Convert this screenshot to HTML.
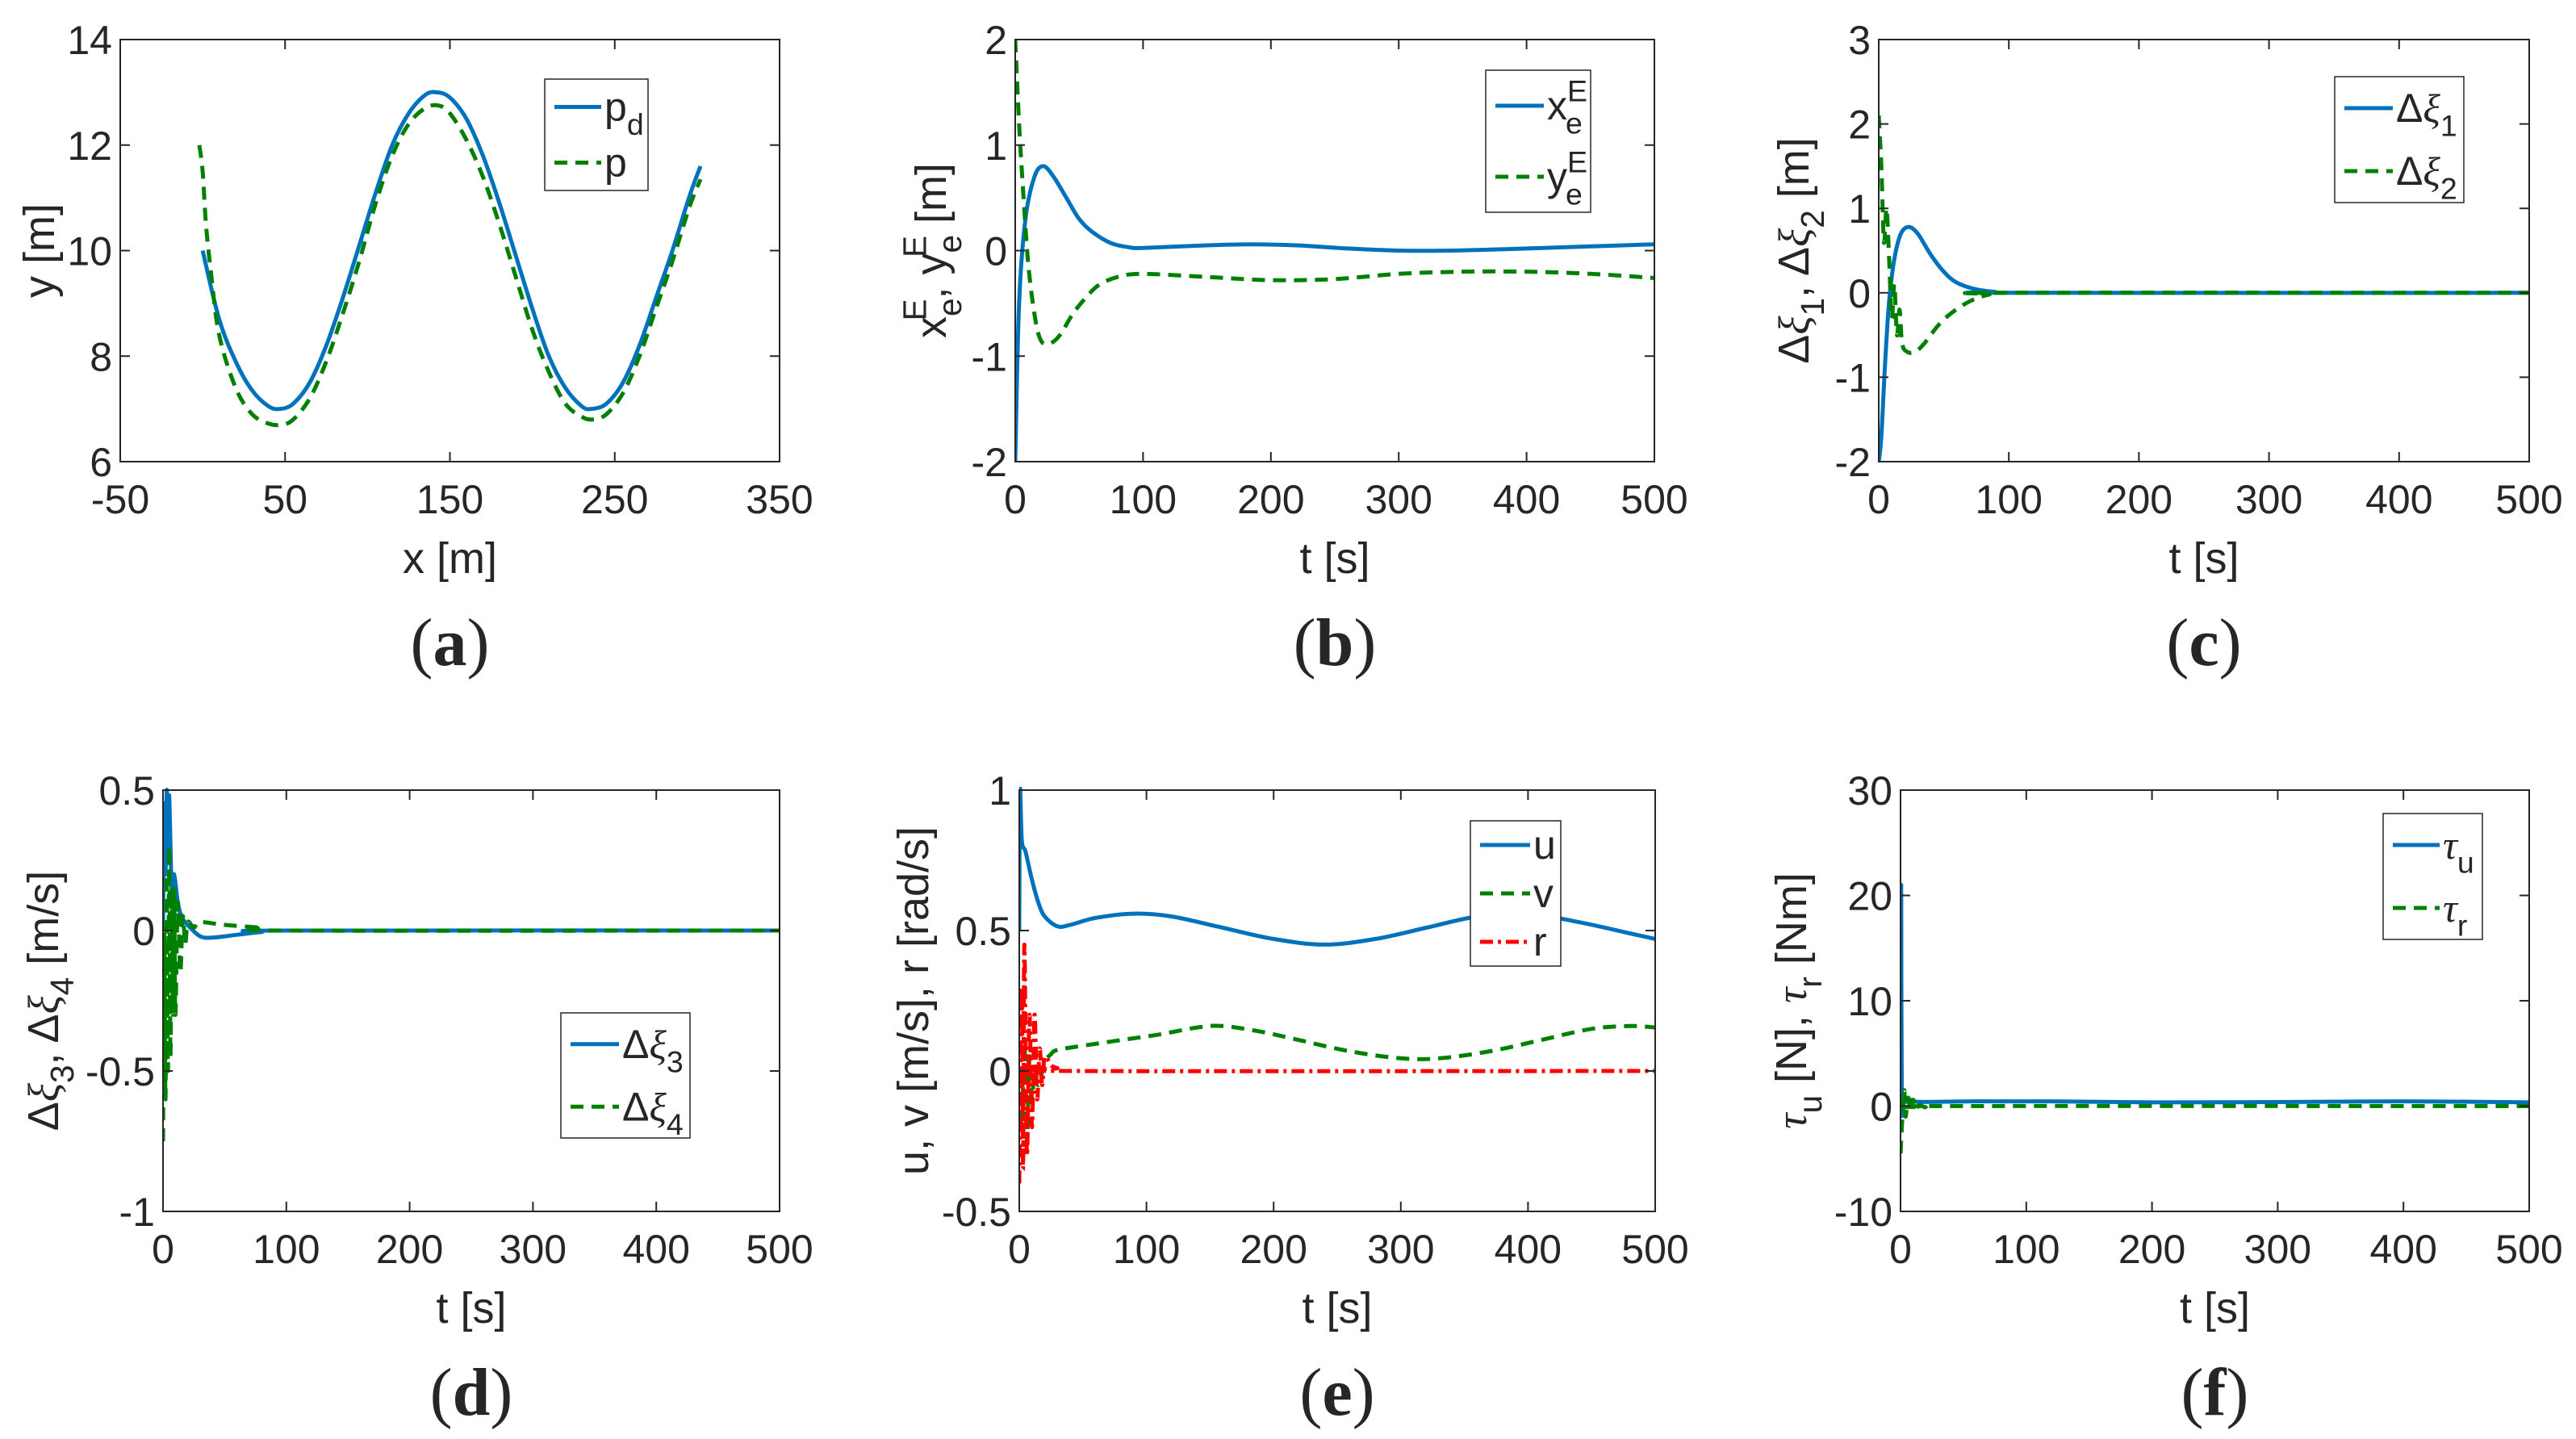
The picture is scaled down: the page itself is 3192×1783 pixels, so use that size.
<!DOCTYPE html>
<html><head><meta charset="utf-8"><title>Simulation results</title>
<style>
html,body{margin:0;padding:0;background:#fff;}
svg{display:block;}
text{font-family:"Liberation Sans",sans-serif;fill:#262626;}
.pl{font-family:"Liberation Serif",serif;}
</style></head>
<body>
<svg id="fig" width="3192" height="1783" viewBox="0 0 3192 1783" xmlns="http://www.w3.org/2000/svg"></svg>
<script>
// ---- Panel (a) data ----
const aPdX=[0,10,20,30,40,47,55,65,75,85,95,105,115,125,135,142,150,160,170,180,190,200,210,220,230,236,245,255,265,275,285,295,302];
const aPdY=[10,8.7,7.9,7.35,7.05,7,7.1,7.5,8.2,9.1,10.1,11.1,12,12.6,12.95,13,12.9,12.5,11.8,10.9,9.9,8.9,8.0,7.4,7.05,7,7.1,7.5,8.2,9.1,10.0,11.0,11.6];
const aPX=[-2,0,2,5,10,20,30,40,48,55,65,75,85,95,105,115,125,135,143,150,160,170,180,190,200,210,220,230,237,245,255,265,275,285,295,302];
const aPY=[12,11.5,10.5,9.6,8.4,7.4,6.9,6.72,6.7,6.8,7.2,7.9,8.8,9.8,10.9,11.8,12.4,12.7,12.75,12.6,12.1,11.4,10.5,9.5,8.5,7.7,7.1,6.85,6.8,6.9,7.3,8.0,8.9,9.8,10.8,11.35];
// ---- Panel (b) data ----
const bXeT=[0,3,8,15,22,30,40,50,60,75,90,100,150,185,220,260,300,340,400,450,500];
const bXeV=[-2,-0.5,0.3,0.7,0.8,0.7,0.5,0.3,0.18,0.07,0.03,0.025,0.05,0.06,0.05,0.02,0,0,0.02,0.04,0.06];
const bYeT=[0,3,6,10,15,20,27,35,45,55,65,80,100,150,200,250,300,350,400,450,500];
const bYeV=[2,1.2,0.6,-0.1,-0.6,-0.85,-0.88,-0.8,-0.6,-0.45,-0.33,-0.25,-0.22,-0.25,-0.28,-0.27,-0.22,-0.2,-0.2,-0.22,-0.26];
// ---- Panel (c) data ----
const cD1T=[0,2,5,8,12,17,23,30,40,50,60,75,90,100,500];
const cD1V=[-2,-1.7,-0.8,-0.1,0.4,0.7,0.78,0.7,0.45,0.25,0.12,0.04,0.01,0,0];
const cD2T=[0,2,4,6,8,10,12,14,16,18,22,28,35,45,55,70,85,100,500];
const cD2V=[2.1,1.5,0.6,1.0,0.4,-0.3,0.1,-0.5,-0.2,-0.6,-0.7,-0.7,-0.6,-0.4,-0.25,-0.1,-0.02,0,0];
// ---- Panel (d) data ----
const dD3T=[0,1,2,3,4,5,7,9,12,15,20,30,40,60,80,100,500];
const dD3V=[0,0.45,0.2,0.5,0.3,0.48,0.15,0.2,0.1,0.05,0.02,-0.02,-0.025,-0.015,-0.005,0,0];
const dD4T=[0,1,2,3,4,5,6,7,8,9,10,12,14,16,18,20,25,30,50,80,100,500];
const dD4V=[-0.75,0,-0.6,0.2,-0.5,0.3,-0.45,0.15,-0.3,0.15,-0.3,0.1,-0.15,0.05,-0.05,0.03,0.01,0.03,0.02,0.01,0,0];
// ---- Panel (e) data ----
const eUT=[0,0.5,2,5,10,15,20,30,40,60,90,120,160,200,240,280,320,360,400,440,480,500];
const eUV=[0.5,1,0.82,0.78,0.68,0.6,0.55,0.515,0.52,0.545,0.56,0.55,0.51,0.47,0.45,0.47,0.51,0.55,0.56,0.53,0.49,0.47];
const eVT=[0,2,4,6,8,10,12,15,20,25,30,50,80,110,140,160,190,220,260,300,330,370,410,450,480,500];
const eVV=[0,-0.2,0.1,-0.25,0.05,-0.1,0,-0.05,0.03,0.06,0.075,0.09,0.11,0.13,0.155,0.16,0.14,0.11,0.07,0.045,0.045,0.07,0.11,0.15,0.16,0.155];
const eRT=[0,2,3,4,6,8,10,12,14,16,18,20,25,30,40,500];
const eRV=[-0.4,0.3,-0.35,0.45,-0.3,0.2,-0.2,0.2,-0.1,0.08,-0.05,0.05,0.02,0.01,0,0];
// ---- Panel (f) data ----
const fTuT=[0,0.5,1,3,5,8,15,60,120,200,300,400,500];
const fTuV=[0,21,0.5,0.8,0.4,0.6,0.4,0.45,0.45,0.35,0.38,0.45,0.35];
const fTrT=[0,1,2,3,4,6,8,10,12,15,20,30,500];
const fTrV=[-4.5,-2,0,1.5,-1,0.8,-0.5,0.6,-0.3,0.1,-0.1,0,0];
// ---- Ticks ----
const aXTicks=[-50,50,150,250,350];
const aYTicks=[6,8,10,12,14];
const tTicks=[0,100,200,300,400,500];
const bYTicks=[-2,-1,0,1,2];
const cYTicks=[-2,-1,0,1,2,3];
const dYTicks=[-1,-0.5,0,0.5];
const eYTicks=[-0.5,0,0.5,1];
const fYTicks=[-10,0,10,20,30];

const NS="http://www.w3.org/2000/svg";
const svg=document.getElementById('fig');
const BLUE="#0072BD",GREEN="#008000",RED="#FF0000";
const STYLES={solid:{c:BLUE,d:""},dash:{c:GREEN,d:"16 10"},dashdot:{c:RED,d:"16 6 4 6"}};
function mk(tag,attrs,parent){const e=document.createElementNS(NS,tag);for(const k in attrs)e.setAttribute(k,attrs[k]);(parent||svg).appendChild(e);return e;}
function rich(el,parts,fs){
  let shift=0;
  parts.forEach(p=>{const t=document.createElementNS(NS,'tspan');
    let target=0,size=fs;
    if(p[1]==='sub'){target=fs*0.35;size=fs*0.75;}
    if(p[1]==='sup'){target=-fs*0.45;size=fs*0.75;}
    t.setAttribute('dy',(target-shift).toFixed(1));shift=target;
    t.setAttribute('font-size',size);
    if(p[2]!==undefined)t.setAttribute('dx',p[2]);
    if(p[1]==='gr'){t.setAttribute('font-family','"Liberation Serif","DejaVu Serif",serif');t.setAttribute('font-style','italic');}
    t.textContent=p[0];el.appendChild(t);});
}
function smoothPath(px,py){
  let d='M'+px[0].toFixed(1)+','+py[0].toFixed(1);
  for(let i=0;i<px.length-1;i++){
    const i0=Math.max(0,i-1),i3=Math.min(px.length-1,i+2);
    const c1x=px[i]+(px[i+1]-px[i0])/6,c1y=py[i]+(py[i+1]-py[i0])/6;
    const c2x=px[i+1]-(px[i3]-px[i])/6,c2y=py[i+1]-(py[i3]-py[i])/6;
    d+='C'+c1x.toFixed(1)+','+c1y.toFixed(1)+' '+c2x.toFixed(1)+','+c2y.toFixed(1)+' '+px[i+1].toFixed(1)+','+py[i+1].toFixed(1);
  }
  return d;
}
function panel(o){
  const g=mk('g',{});
  
  
  const [L,T,R,B]=o.box;
  const sx=v=>L+(v-o.xr[0])/(o.xr[1]-o.xr[0])*(R-L);
  const sy=v=>B-(v-o.yr[0])/(o.yr[1]-o.yr[0])*(B-T);
  const clipId='clip'+o.id;
  const cp=mk('clipPath',{id:clipId},g);mk('rect',{x:L,y:T-4,width:R-L,height:B-T+8},cp);
  o.series.forEach(s=>{
    const st=STYLES[s.style];
    const d=smoothPath(s.x.map(sx),s.y.map(sy));
    const p=mk('path',{d:d,fill:'none',stroke:st.c,'stroke-width':5,'stroke-dasharray':st.d,'stroke-linejoin':'round','clip-path':'url(#'+clipId+')'},g);
    
    
  });
  const bx=mk('rect',{x:L,y:T,width:R-L,height:B-T,fill:'none',stroke:'#262626','stroke-width':2},g);
  
  
  const tl=12;
  o.xticks.forEach(v=>{const x=sx(v);
    mk('line',{x1:x,y1:B,x2:x,y2:B-tl,stroke:'#262626','stroke-width':2},g);
    mk('line',{x1:x,y1:T,x2:x,y2:T+tl,stroke:'#262626','stroke-width':2},g);
    const t=mk('text',{x:x,y:B+64,'font-size':50,'text-anchor':'middle'},g);t.textContent=String(v);
    
    });
  o.yticks.forEach(v=>{const y=sy(v);
    mk('line',{x1:L,y1:y,x2:L+tl,y2:y,stroke:'#262626','stroke-width':2},g);
    mk('line',{x1:R,y1:y,x2:R-tl,y2:y,stroke:'#262626','stroke-width':2},g);
    const t=mk('text',{x:L-10,y:y+18,'font-size':50,'text-anchor':'end'},g);t.textContent=String(v);
    
    });
  const xl=mk('text',{x:(L+R)/2,y:B+138,'font-size':54,'text-anchor':'middle'},g);xl.textContent=o.xlabel;
  
  
  const yc=(T+B)/2;
  const yl=mk('text',{x:0,y:0,'font-size':54,'text-anchor':'middle',transform:'translate('+(o.ylx+18)+','+yc+') rotate(-90)'},g);
  rich(yl,o.ylabel,54);
  
  
  const pl=mk('text',{x:(L+R)/2,y:B+252,'font-size':84,'text-anchor':'middle','class':'pl'},g);
  const a=document.createElementNS(NS,'tspan');a.textContent='(';pl.appendChild(a);
  const b=document.createElementNS(NS,'tspan');b.setAttribute('font-weight','bold');b.textContent=o.letter;pl.appendChild(b);
  const c=document.createElementNS(NS,'tspan');c.textContent=')';pl.appendChild(c);
  
  
  const [lx,ly,lx2,ly2]=o.legend.box;
  const lg=mk('g',{},g);
  
  
  mk('rect',{x:lx,y:ly,width:lx2-lx,height:ly2-ly,fill:'#fff',stroke:'#262626','stroke-width':1.5},lg);
  const n=o.legend.items.length, h=(ly2-ly)/n;
  o.legend.items.forEach((it,i)=>{
    const cy=ly+h*(i+0.5);
    const st=STYLES[it.style];
    const e=mk('g',{},lg);
    
    
    mk('line',{x1:lx+12,y1:cy,x2:lx+12+o.legend.lw,y2:cy,stroke:st.c,'stroke-width':5,'stroke-dasharray':st.d},e);
    const t=mk('text',{x:lx+16+o.legend.lw,y:cy+17,'font-size':50},e);
    rich(t,it.label,50);
  });
}

panel({id:'a',name:'panel-a-trajectory',box:[149,49,966,572],xr:[-50,350],yr:[6,14],xticks:aXTicks,yticks:aYTicks,
  series:[{name:'pd-line',style:'solid',x:aPdX,y:aPdY},{name:'p-line',style:'dash',x:aPX,y:aPY}],
  xlabel:'x [m]',ylabel:[['y [m]','n']],ylx:49,letter:'a',
  legend:{box:[675,98,803,236],lw:58,items:[{style:'solid',label:[['p','n'],['d','sub']]},{style:'dash',label:[['p','n']]}]}});
panel({id:'b',name:'panel-b-position-error',box:[1258,49,2050,572],xr:[0,500],yr:[-2,2],xticks:tTicks,yticks:bYTicks,
  series:[{name:'xe-line',style:'solid',x:bXeT,y:bXeV},{name:'ye-line',style:'dash',x:bYeT,y:bYeV}],
  xlabel:'t [s]',ylabel:[['x','n'],['e','sub'],['E','sup',-28],[', y','n'],['e','sub'],['E','sup',-28],[' [m]','n']],ylx:1154,letter:'b',
  legend:{box:[1841,87,1971,263],lw:60,items:[{style:'solid',label:[['x','n'],['E','sup'],['e','sub',-27]]},{style:'dash',label:[['y','n'],['E','sup'],['e','sub',-27]]}]}});
panel({id:'c',name:'panel-c-delta-xi12',box:[2328,49,3134,572],xr:[0,500],yr:[-2,3],xticks:tTicks,yticks:cYTicks,
  series:[{name:'dxi1-line',style:'solid',x:cD1T,y:cD1V},{name:'dxi2-line',style:'dash',x:cD2T,y:cD2V}],
  xlabel:'t [s]',ylabel:[['Δ','n'],['ξ','gr'],['1','sub'],[', Δ','n'],['ξ','gr'],['2','sub'],[' [m]','n']],ylx:2223,letter:'c',
  legend:{box:[2893,95,3053,251],lw:60,items:[{style:'solid',label:[['Δ','n'],['ξ','gr'],['1','sub']]},{style:'dash',label:[['Δ','n'],['ξ','gr'],['2','sub']]}]}});
panel({id:'d',name:'panel-d-delta-xi34',box:[202,979,966,1501],xr:[0,500],yr:[-1,0.5],xticks:tTicks,yticks:dYTicks,
  series:[{name:'dxi3-line',style:'solid',x:dD3T,y:dD3V},{name:'dxi4-line',style:'dash',x:dD4T,y:dD4V}],
  xlabel:'t [s]',ylabel:[['Δ','n'],['ξ','gr'],['3','sub'],[', Δ','n'],['ξ','gr'],['4','sub'],[' [m/s]','n']],ylx:54,letter:'d',
  legend:{box:[695,1255,855,1410],lw:60,items:[{style:'solid',label:[['Δ','n'],['ξ','gr'],['3','sub']]},{style:'dash',label:[['Δ','n'],['ξ','gr'],['4','sub']]}]}});
panel({id:'e',name:'panel-e-velocities',box:[1263,979,2051,1501],xr:[0,500],yr:[-0.5,1],xticks:tTicks,yticks:eYTicks,
  series:[{name:'u-line',style:'solid',x:eUT,y:eUV},{name:'v-line',style:'dash',x:eVT,y:eVV},{name:'r-line',style:'dashdot',x:eRT,y:eRV}],
  xlabel:'t [s]',ylabel:[['u, v [m/s], r [rad/s]','n']],ylx:1132,letter:'e',
  legend:{box:[1822,1017,1934,1197],lw:62,items:[{style:'solid',label:[['u','n']]},{style:'dash',label:[['v','n']]},{style:'dashdot',label:[['r','n']]}]}});
panel({id:'f',name:'panel-f-control-inputs',box:[2355,979,3134,1501],xr:[0,500],yr:[-10,30],xticks:tTicks,yticks:fYTicks,
  series:[{name:'tau-u-line',style:'solid',x:fTuT,y:fTuV},{name:'tau-r-line',style:'dash',x:fTrT,y:fTrV}],
  xlabel:'t [s]',ylabel:[['τ','gr'],['u','sub'],[' [N], ','n'],['τ','gr'],['r','sub'],[' [Nm]','n']],ylx:2220,letter:'f',
  legend:{box:[2953,1008,3076,1164],lw:58,items:[{style:'solid',label:[['τ','gr'],['u','sub']]},{style:'dash',label:[['τ','gr'],['r','sub']]}]}});
</script>
</body></html>
